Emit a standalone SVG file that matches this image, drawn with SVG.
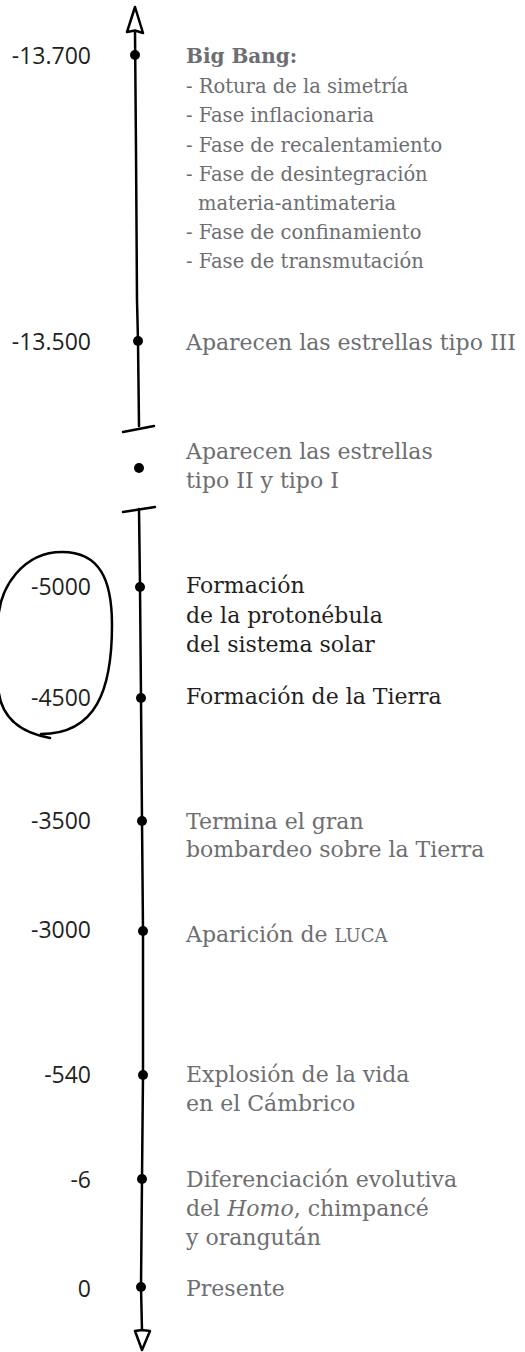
<svg xmlns="http://www.w3.org/2000/svg" width="525" height="1352" viewBox="0 0 525 1352">
<style>
.yr{font-family:"Open Sans","Liberation Sans",sans-serif;font-size:23px;fill:#231f20;text-anchor:end}
.ev{font-family:"DejaVu Serif","Liberation Serif",serif;font-size:22px;fill:#6d6e71}
.bb{font-size:19.5px}
.dk{fill:#231f20}
.b{font-weight:bold;font-size:20px}
.ax{fill:none;stroke:#000;stroke-width:2.5;stroke-linecap:round;stroke-linejoin:round}
.dot{fill:#000}
</style>
<rect width="525" height="1352" fill="#fff"/>
<g id="connectors">
<polyline class="ax" points="135,31 136,150 137,300 138,341 139,426"/>
<line class="ax" x1="123" y1="432" x2="154" y2="426"/>
<line class="ax" x1="123" y1="512" x2="155" y2="507"/>
<polyline class="ax" points="139,509 140,587 141,698 142,821 143,931 143,1075 142,1179 141,1287 142,1331"/>
<polygon class="ax" style="fill:#fff" points="135,7 143,33 135,30.5 127,32"/>
<polygon class="ax" style="fill:#fff" points="135,1331 142,1330 150,1331 142,1350"/>
<path class="ax" d="M 50 738 C 22 733 -2 718 -2 682 L -2 625 C -2 585 25 552 62 552 C 100 552 112 580 112 625 C 112 690 96 734 41 734"/>
</g>
<g id="n-bigbang">
<circle class="dot" cx="135" cy="55" r="5"/>
<text class="yr" x="91" y="64">-13.700</text>
<text class="ev b" x="186" y="63">Big Bang:</text>
<text class="ev bb" x="186" y="92.5">- Rotura de la simetría</text>
<text class="ev bb" x="186" y="121.7">- Fase inflacionaria</text>
<text class="ev bb" x="186" y="151.5">- Fase de recalentamiento</text>
<text class="ev bb" x="186" y="181">- Fase de desintegración</text>
<text class="ev bb" x="198" y="209.5">materia-antimateria</text>
<text class="ev bb" x="186" y="239">- Fase de confinamiento</text>
<text class="ev bb" x="186" y="268">- Fase de transmutación</text>
</g>
<g id="n-13500">
<circle class="dot" cx="138" cy="341" r="5"/>
<text class="yr" x="91" y="350">-13.500</text>
<text class="ev" x="186" y="350">Aparecen las estrellas tipo III</text>
</g>
<g id="n-tipoII">
<circle class="dot" cx="139" cy="468" r="5"/>
<text class="ev" x="186" y="459">Aparecen las estrellas</text>
<text class="ev" x="186" y="488">tipo II y tipo I</text>
</g>
<g id="n-5000">
<circle class="dot" cx="140" cy="587" r="5"/>
<text class="yr" x="91" y="595">-5000</text>
<text class="ev dk" x="186" y="593">Formación</text>
<text class="ev dk" x="186" y="623">de la protonébula</text>
<text class="ev dk" x="186" y="652">del sistema solar</text>
</g>
<g id="n-4500">
<circle class="dot" cx="141" cy="698" r="5"/>
<text class="yr" x="91" y="706">-4500</text>
<text class="ev dk" x="186" y="704">Formación de la Tierra</text>
</g>
<g id="n-3500">
<circle class="dot" cx="142" cy="821" r="5"/>
<text class="yr" x="91" y="829">-3500</text>
<text class="ev" x="186" y="829">Termina el gran</text>
<text class="ev" x="186" y="857">bombardeo sobre la Tierra</text>
</g>
<g id="n-3000">
<circle class="dot" cx="143" cy="931" r="5"/>
<text class="yr" x="91" y="938">-3000</text>
<text class="ev" x="186" y="942">Aparición de <tspan font-size="18">LUCA</tspan></text>
</g>
<g id="n-540">
<circle class="dot" cx="143" cy="1075" r="5"/>
<text class="yr" x="91" y="1083">-540</text>
<text class="ev" x="186" y="1082">Explosión de la vida</text>
<text class="ev" x="186" y="1111">en el Cámbrico</text>
</g>
<g id="n-6">
<circle class="dot" cx="142" cy="1179" r="5"/>
<text class="yr" x="91" y="1188">-6</text>
<text class="ev" x="186" y="1187">Diferenciación evolutiva</text>
<text class="ev" x="186" y="1216">del <tspan font-style="italic">Homo</tspan>, chimpancé</text>
<text class="ev" x="186" y="1245">y orangután</text>
</g>
<g id="n-0">
<circle class="dot" cx="141" cy="1287" r="5"/>
<text class="yr" x="91" y="1297">0</text>
<text class="ev" x="186" y="1296">Presente</text>
</g>
</svg>
